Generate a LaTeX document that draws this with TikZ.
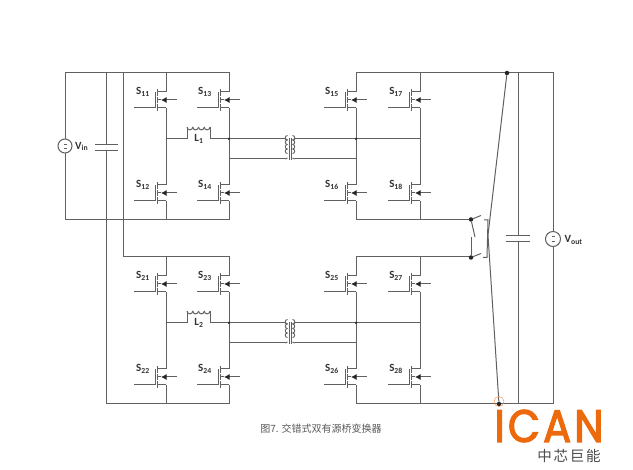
\documentclass[tikz,border=0pt]{standalone}
\usepackage{fontspec}
\usepackage{graphicx}
\setmainfont{Carlito}
\newfontfamily\cjk{Noto Sans CJK SC}
\newfontfamily\cjkwide[LetterSpace=12]{Noto Sans CJK SC}
\newfontfamily\logofont[FakeBold=3,LetterSpace=8]{Poppins}
\usetikzlibrary{arrows.meta}
\definecolor{wire}{HTML}{606060}
\definecolor{icanorange}{HTML}{EC6A0C}
\tikzset{
    wireline/.style={draw=wire,line width=1pt},
    junction/.style={circle,fill=black!85,inner sep=0pt,minimum size=4.5pt},
    devlabel/.style={inner sep=0pt,font=\bfseries\fontsize{11}{11}\selectfont,text=black!80},
}
\begin{document}
\begin{tikzpicture}[x=1pt,y=-1pt]
    \useasboundingbox (0,0) rectangle (633,470);
    % switches of the four bridges
    \foreach \name/\x/\y in {S11/166/100,S13/229/100,S12/166/193,S14/229/193,
                             S15/356/100,S17/420/100,S16/356/193,S18/420/193,
                             S21/166/284,S23/229/284,S22/166/377,S24/229/377,
                             S25/356/284,S27/420/284,S26/356/377,S28/420/377}
    {
            \coordinate (\name d) at (\x, \y -8);
            \coordinate (\name s) at (\x, \y +8);
            \coordinate (\name g) at (\x -32, \y +8);
            \draw[wireline] (\name g) -- (\x -11, \y +8) -- (\x -11, \y -8);
            \draw[wireline] (\x -9, \y -11) -- (\x -9, \y -4);
            \draw[wireline] (\x -9, \y -3) -- (\x -9, \y +3);
            \draw[wireline] (\x -9, \y +4) -- (\x -9, \y +11);
            \draw[wireline] (\x -9, \y -8) -- (\name d);
            \draw[wireline] (\x -9, \y +8) -- (\name s);
            \draw[wireline] (\x -9, \y) -- (\x -5, \y);
            \draw[wireline,-{Latex[length=5.5pt,width=6pt,black!85]}] (\x +11, \y) -- (\x -5, \y);
    }
    % labels of the switches
    \foreach \name/\x/\y/\sub in {S11/143/92/11,S13/205/92/13,S12/143/185/12,S14/205/185/14,
                                  S15/332/92/15,S17/396/92/17,S16/332/185/16,S18/396/185/18,
                                  S21/143/276/21,S23/205/276/23,S22/143/369/22,S24/205/369/24,
                                  S25/332/276/25,S27/396/276/27,S26/332/369/26,S28/396/369/28}
    {
            \node[devlabel] (l\name) at (\x, \y) {S\textsubscript{\sub}};
    }
    % legs and rails
    \coordinate (tl) at (65,73);
    \coordinate (bl) at (65,219.5);
    \coordinate (tc) at (106.5,73);
    \coordinate (tb) at (123.5,73);
    \coordinate (bc) at (106.5,404);
    \coordinate (rb) at (229,404);
    \coordinate (rs) at (553,73);
    \coordinate (re) at (553,404);
    \coordinate (ct) at (518,73);
    \coordinate (ce) at (518,404);
    \draw[wireline] (S11d) -- (166,73);
    \draw[wireline] (S13d) -- (229,73) -- (tl) -- (bl) -- (229,219.5) -- (S14s);
    \draw[wireline] (S12s) -- (166,219.5);
    \draw[wireline] (S11s) -- (S12d);
    \draw[wireline] (S13s) -- (S14d);
    \draw[wireline] (tb) -- (123.5,257) -- (229,257) -- (S23d);
    \draw[wireline] (S21d) -- (166,257);
    \draw[wireline] (S21s) -- (S22d);
    \draw[wireline] (S23s) -- (S24d);
    \draw[wireline] (S22s) -- (166,404);
    \draw[wireline] (S24s) -- (rb) -- (bc);
    \draw[wireline] (S15s) -- (S16d);
    \draw[wireline] (S17s) -- (S18d);
    \draw[wireline] (S25s) -- (S26d);
    \draw[wireline] (S27s) -- (S28d);
    \draw[wireline] (S15d) -- (356,73) -- (rs) -- (re) -- (356,404) -- (S26s);
    \draw[wireline] (S17d) -- (420,73);
    \draw[wireline] (S28s) -- (420,404);
    \draw[wireline] (S16s) -- (356,219.5) -- (471,219.5);
    \draw[wireline] (S18s) -- (420,219.5);
    \draw[wireline] (S25d) -- (356,257) -- (471,257);
    \draw[wireline] (S27d) -- (420,257);
    % input and output filter
    \node[circle,draw=wire,line width=1pt,fill=white,minimum size=14pt,inner sep=0pt] (vin) at (65,146) {};
    \node[devlabel,anchor=west] (lvin) at (75,146.5) {V\textsubscript{in}};
    \node[circle,draw=wire,line width=1pt,fill=white,minimum size=15pt,inner sep=0pt] (vout) at (553,239) {};
    \node[devlabel,anchor=west] (lvout) at (564.5,240) {V\textsubscript{out}};
    \draw[wireline] (tc) -- (106.5,145) (106.5,151) -- (bc);
    \draw[wireline] (95,145) -- (118,145) (95,151) -- (118,151);
    \draw[wireline] (ct) -- (518,236) (518,242) -- (ce);
    \draw[wireline] (506,236) -- (530,236) (506,242) -- (530,242);
    \foreach \y in {144,148.5}
    {
            \draw[wire,line width=0.5pt] (63.5,\y) -- (66.5,\y);
    }
    \foreach \y in {236.5,241.5}
    {
            \draw[wire,line width=0.5pt] (551.5,\y) -- (554.5,\y);
    }
    % inductors and transformers
    \foreach \y/\name/\sub in {139/L1/1,323/L2/2}
    {
            \draw[wireline] (166,\y) -- (187,\y) -- (187,\y -12);
            \foreach \k in {0,...,3}
            {
                    \draw[wireline] (187 +\k *5.75,\y -12) arc (180:0:2.875);
            }
            \draw[wireline] (210,\y -12) -- (210,\y) -- (285,\y);
            \draw[wireline] (229,\y +20) -- (285,\y +20);
            \draw[wireline] (295,\y) -- (420,\y);
            \draw[wireline] (295,\y +20) -- (356,\y +20);
            \node[devlabel] (l\name) at (199,\y) {L\textsubscript{\sub}};
            \draw[wireline] (285,\y) -- (287.5,\y +1);
            \draw[wireline] (295,\y) -- (292.5,\y +1);
            \foreach \k in {0,...,3}
            {
                    \draw[wire,line width=0.9pt] (287.5,\y +1 +\k *4.5) arc (90:270:2.25);
                    \draw[wire,line width=0.9pt] (292.5,\y +1 +\k *4.5) arc (90:-90:2.25);
            }
            \draw[wireline] (287.5,\y +19) -- (285,\y +20);
            \draw[wireline] (292.5,\y +19) -- (295,\y +20);
            \draw[wire,line width=0.8pt] (289.3,\y -1) -- (289.3,\y +21);
            \draw[wire,line width=0.8pt] (290.9,\y -1) -- (290.9,\y +21);
            \node[junction,minimum size=2.5pt] (jp\name) at (229,\y) {};
            \node[junction,minimum size=2.5pt] (js\name) at (356,\y) {};
    }
    % selector switch between the two right bridges
    \node[junction] (ja) at (471,219.5) {};
    \node[junction] (jc) at (471,257.5) {};
    \node[junction] (jd) at (507,73) {};
    \node[junction] (je) at (499,404) {};
    \draw[wireline] (ja) -- (481,215.5);
    \draw[wireline] (jc) -- (481,253.5);
    \draw[wireline] (ja) -- (475,237);
    \draw[wireline] (471,237) -- (jc);
    \draw[wireline] (484,220) -- (488,220) -- (487,257.5) -- (483,257.5);
    \draw[wireline] (jd) -- (488,235) -- (je);
    \node[circle,draw=icanorange!70,line width=0.5pt,minimum size=10pt,inner sep=0pt] (mark) at (499,401.5) {};
    % caption and mark
    \node[inner sep=0pt,text=black!65,font=\cjk\fontsize{10}{10}\selectfont] (caption) at (321,429) {图7. 交错式双有源桥变换器};
    \node[inner sep=0pt,text=icanorange,font=\logofont] (logo) at (549,426) {\resizebox{109pt}{32pt}{ICAN}};
    \node[inner sep=0pt,text=black!70,font=\cjkwide\fontsize{14.5}{14.5}\selectfont] (logosub) at (569,455.5) {中芯巨能};
\end{tikzpicture}
\end{document}
